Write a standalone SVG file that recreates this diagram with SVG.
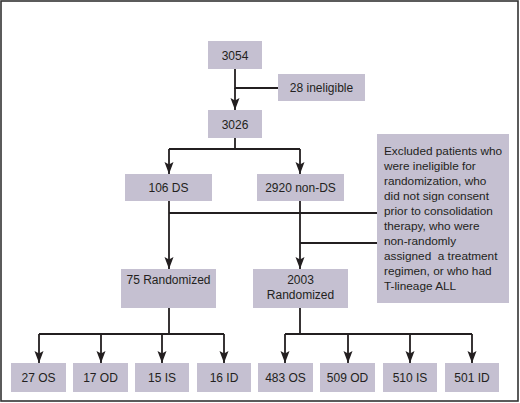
<svg xmlns="http://www.w3.org/2000/svg" width="520" height="403" viewBox="0 0 520 403">
<style>
.box{fill:#c5c0d1;}
.t{font-family:"Liberation Sans",Arial,sans-serif;font-size:12px;fill:#231f20;text-anchor:middle;}
.tl{font-family:"Liberation Sans",Arial,sans-serif;font-size:11.8px;fill:#231f20;}
.c{fill:none;stroke:#231f20;stroke-width:1.8;}
</style>
<defs>
<marker id="ah" markerUnits="userSpaceOnUse" markerWidth="13" markerHeight="10" viewBox="0 0 13 10" refX="12.5" refY="5" orient="auto">
<path d="M0.5,0.5 L3,5 L0.5,9.5 L12.5,5 Z" fill="#231f20"/>
</marker>
</defs>
<rect x="1" y="1" width="517" height="400" fill="#fff" stroke="#333" stroke-width="1.6"/>
<g id="connectors">
<path class="c" d="M235,69 V88 H278"/>
<path class="c" d="M235,88 V110" marker-end="url(#ah)"/>
<path class="c" d="M235,138 V149 M169,149 H300"/>
<path class="c" d="M169,149 V174" marker-end="url(#ah)"/>
<path class="c" d="M300,149 V174" marker-end="url(#ah)"/>
<path class="c" d="M169,201 V269" marker-end="url(#ah)"/>
<path class="c" d="M300,201 V269" marker-end="url(#ah)"/>
<path class="c" d="M169,213 H377 M300,243 H377"/>
<path class="c" d="M169,308 V334 M39,334 H224"/>
<path class="c" d="M39,334 V363" marker-end="url(#ah)"/>
<path class="c" d="M101,334 V363" marker-end="url(#ah)"/>
<path class="c" d="M162,334 V363" marker-end="url(#ah)"/>
<path class="c" d="M224,334 V363" marker-end="url(#ah)"/>
<path class="c" d="M300,308 V334 M285,334 H472"/>
<path class="c" d="M285,334 V363" marker-end="url(#ah)"/>
<path class="c" d="M348,334 V363" marker-end="url(#ah)"/>
<path class="c" d="M410,334 V363" marker-end="url(#ah)"/>
<path class="c" d="M472,334 V363" marker-end="url(#ah)"/>
</g>
<g id="n3054"><rect class="box" x="208" y="41" width="54" height="28"/><text class="t" x="235" y="59.5">3054</text></g>
<g id="n28"><rect class="box" x="278" y="74" width="87" height="27"/><text class="t" x="321.5" y="92">28 ineligible</text></g>
<g id="n3026"><rect class="box" x="208" y="110" width="54" height="28"/><text class="t" x="235" y="128.5">3026</text></g>
<g id="n106"><rect class="box" x="125" y="174" width="87" height="27"/><text class="t" x="168.5" y="192">106 DS</text></g>
<g id="n2920"><rect class="box" x="257" y="174" width="87" height="27"/><text class="t" x="300.5" y="192">2920 non-DS</text></g>
<g id="excluded"><rect class="box" x="377" y="134" width="132" height="169"/>
<text class="tl" x="384" y="155">Excluded patients who</text>
<text class="tl" x="384" y="170">were ineligible for</text>
<text class="tl" x="384" y="185">randomization, who</text>
<text class="tl" x="384" y="200">did not sign consent</text>
<text class="tl" x="384" y="215">prior to consolidation</text>
<text class="tl" x="384" y="230">therapy, who were</text>
<text class="tl" x="384" y="245">non-randomly</text>
<text class="tl" x="384" y="259.5" xml:space="preserve">assigned  a treatment</text>
<text class="tl" x="384" y="274.5">regimen, or who had</text>
<text class="tl" x="384" y="289.5">T-lineage ALL</text>
</g>
<g id="n75"><rect class="box" x="121" y="269" width="95" height="39"/><text class="t" x="168.5" y="283.7">75 Randomized</text></g>
<g id="n2003"><rect class="box" x="253" y="269" width="95" height="39"/><text class="t" x="300.5" y="283.7">2003</text><text class="t" x="300.5" y="298.7">Randomized</text></g>
<g id="n27"><rect class="box" x="11" y="363" width="55" height="29"/><text class="t" x="38.5" y="382">27 OS</text></g>
<g id="n17"><rect class="box" x="73" y="363" width="55" height="29"/><text class="t" x="100.5" y="382">17 OD</text></g>
<g id="n15"><rect class="box" x="135" y="363" width="54" height="29"/><text class="t" x="162" y="382">15 IS</text></g>
<g id="n16"><rect class="box" x="197" y="363" width="54" height="29"/><text class="t" x="224" y="382">16 ID</text></g>
<g id="n483"><rect class="box" x="258" y="363" width="55" height="29"/><text class="t" x="285.5" y="382">483 OS</text></g>
<g id="n509"><rect class="box" x="320" y="363" width="55" height="29"/><text class="t" x="347.5" y="382">509 OD</text></g>
<g id="n510"><rect class="box" x="383" y="363" width="54" height="29"/><text class="t" x="410" y="382">510 IS</text></g>
<g id="n501"><rect class="box" x="445" y="363" width="54" height="29"/><text class="t" x="472" y="382">501 ID</text></g>
</svg>
